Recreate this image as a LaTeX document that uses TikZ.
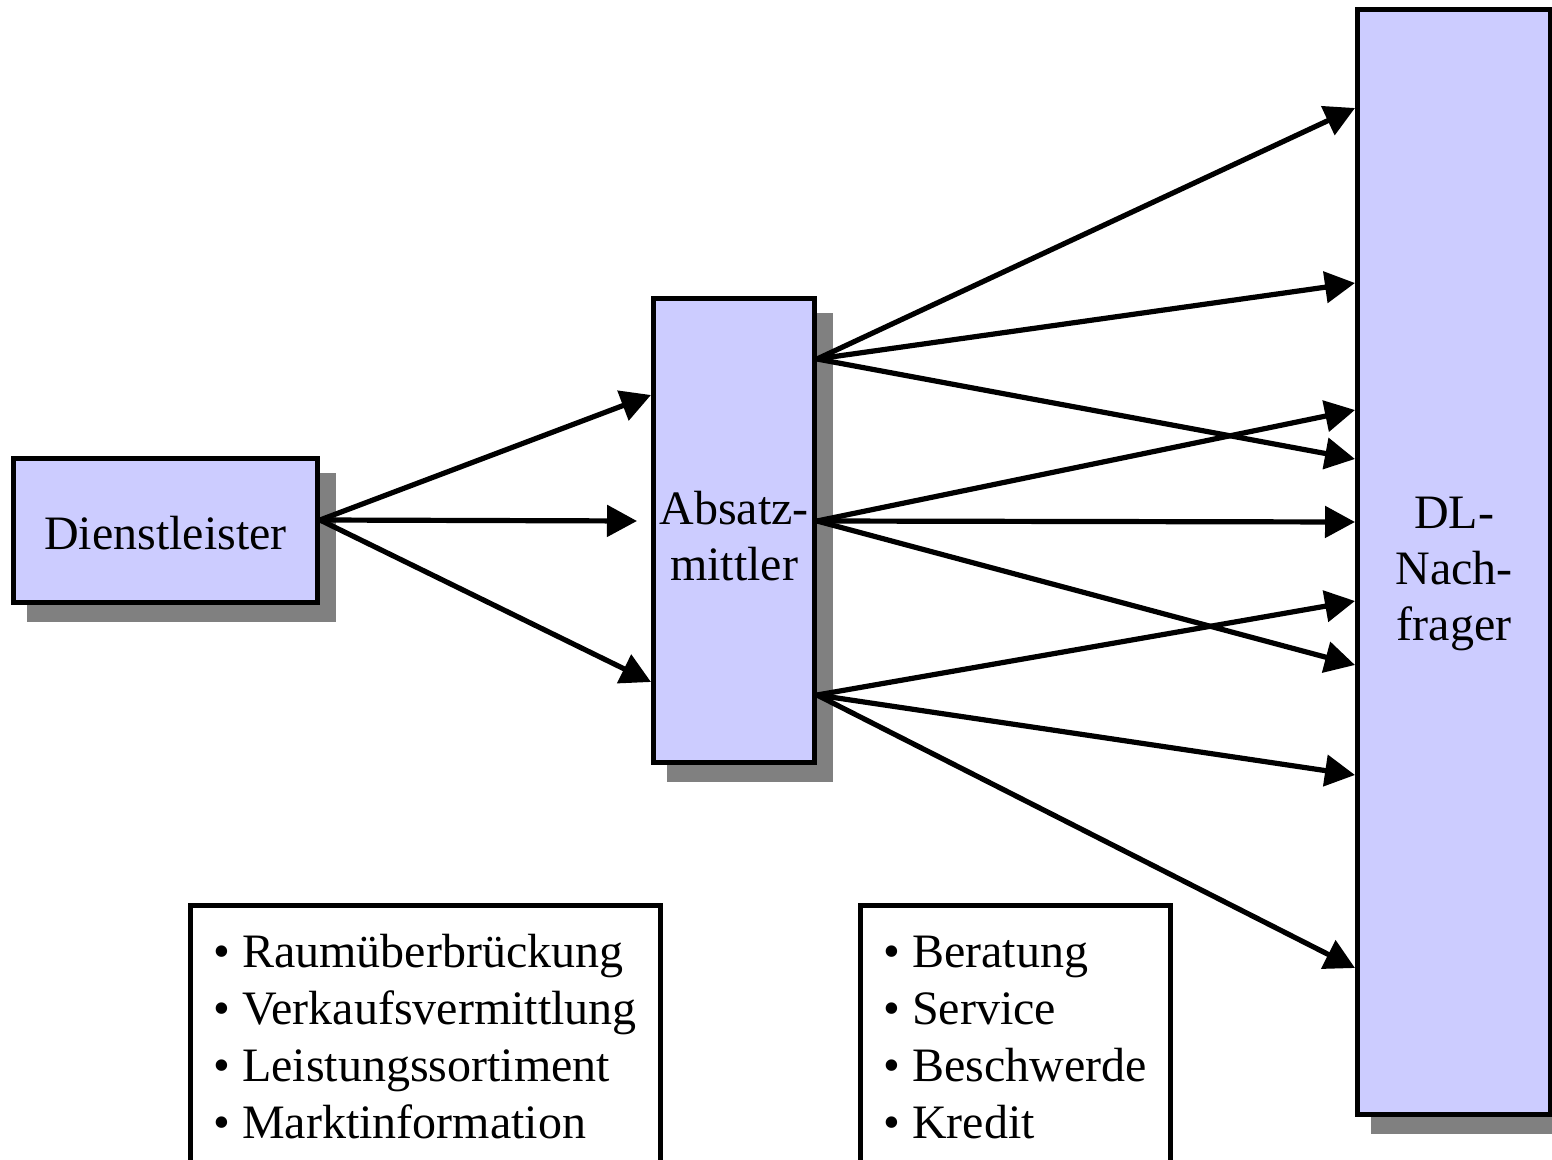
\documentclass[tikz,border=0pt]{standalone}
\usepackage{fontspec}
\setmainfont{Liberation Serif}
\usetikzlibrary{arrows.meta,calc}
\definecolor{boxfill}{HTML}{CCCCFF}
\definecolor{shadowgray}{HTML}{808080}
\begin{document}
\begin{tikzpicture}[x=0.5pt,y=-0.5pt,
  every node/.style={font=\fontsize{24}{28}\selectfont},
  actor/.style={draw=black, fill=boxfill, line width=2.5pt, align=center, inner sep=0pt,
    preaction={draw=shadowgray, fill=shadowgray, transform canvas={xshift=8pt,yshift=-8.5pt}}},
  listbox/.style={draw=black, line width=2.5pt, inner sep=0pt, anchor=north west},
  item/.style={anchor=base west, inner sep=0pt},
  flow/.style={line width=2.6pt, -{Triangle[length=15pt,width=15.5pt]}}]
\useasboundingbox (0,0) rectangle (1552,1160);
\clip (0,0) rectangle (1552,1160);

% main boxes with drop shadows
\node[actor, minimum width=152pt, minimum height=72pt] (dl) at (165.5,530.5) {\rule{0pt}{19pt}Dienstleister};
\node[actor, minimum width=80.5pt, minimum height=232pt] (am) at (734,530.5) {\rule{0pt}{22pt}Absatz-\\mittler};
\node[actor, minimum width=96.5pt, minimum height=552.5pt] (nf) at (1454,562) {\rule{0pt}{28pt}DL-\\Nach-\\frager};

% function lists
\node[listbox, minimum width=235pt, minimum height=150pt] (lb) at (188,903) {};
\node[listbox, minimum width=155pt, minimum height=150pt] (rb) at (858,903) {};
\node[item] (l1) at (213,967)  {• Raumüberbrückung};
\node[item] (l2) at (213,1024) {• Verkaufsvermittlung};
\node[item] (l3) at (213,1081) {• Leistungssortiment};
\node[item] (l4) at (213,1138) {• Marktinformation};
\node[item] (r1) at (883,967)  {• Beratung};
\node[item] (r2) at (883,1024) {• Service};
\node[item] (r3) at (883,1081) {• Beschwerde};
\node[item] (r4) at (883,1138) {• Kredit};

% Dienstleister -> Absatzmittler
\draw[flow] ($(dl.north east)+(0,64)$) -- ($(am.north west)+(0,99)$);
\draw[flow] ($(dl.north east)+(0,64)$) -- ($(am.north west)+(-14,225)$);
\draw[flow] ($(dl.north east)+(0,64)$) -- ($(am.north west)+(0,386)$);

% Absatzmittler -> DL-Nachfrager
\draw[flow] ($(am.north east)+(0,63)$)  -- ($(nf.north west)+(0,101)$);
\draw[flow] ($(am.north east)+(0,63)$)  -- ($(nf.north west)+(0,276)$);
\draw[flow] ($(am.north east)+(0,63)$)  -- ($(nf.north west)+(0,452)$);
\draw[flow] ($(am.north east)+(0,225)$) -- ($(nf.north west)+(0,403)$);
\draw[flow] ($(am.north east)+(0,225)$) -- ($(nf.north west)+(0,515)$);
\draw[flow] ($(am.north east)+(0,225)$) -- ($(nf.north west)+(0,658)$);
\draw[flow] ($(am.north east)+(0,399)$) -- ($(nf.north west)+(0,594)$);
\draw[flow] ($(am.north east)+(0,399)$) -- ($(nf.north west)+(0,768)$);
\draw[flow] ($(am.north east)+(0,399)$) -- ($(nf.north west)+(0,961)$);
\end{tikzpicture}
\end{document}
